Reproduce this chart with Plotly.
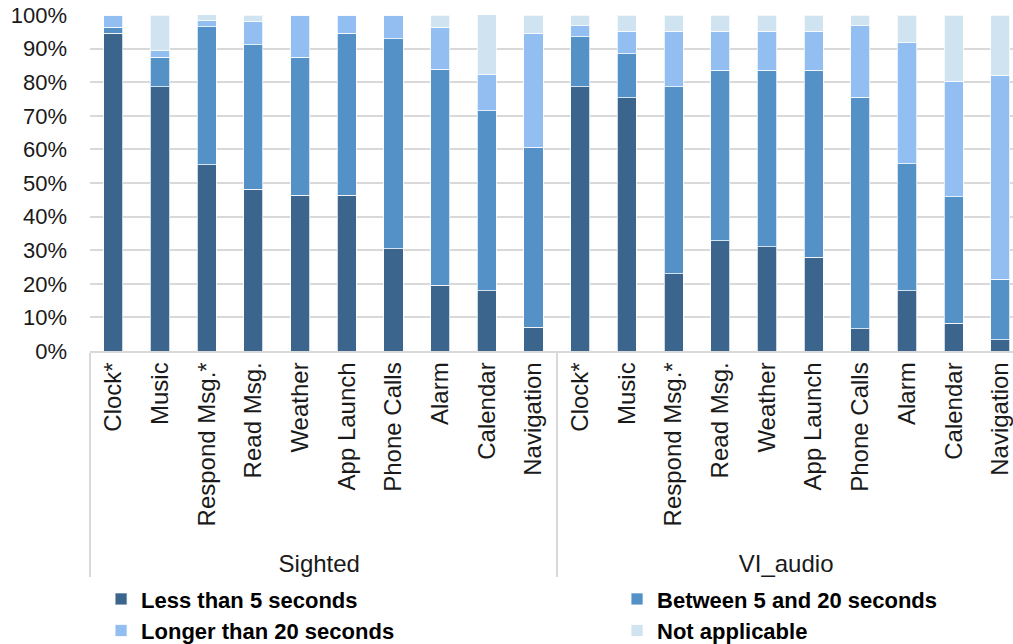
import plotly.graph_objects as go

# Task categories, shown once per participant group
groups = ["Sighted", "VI_audio"]
tasks = ["Clock*", "Music", "Respond Msg.*", "Read Msg.", "Weather",
         "App Launch", "Phone Calls", "Alarm", "Calendar", "Navigation"]

# Share of responses (%) per task, Sighted group
sighted_less = [94.6, 78.6, 55.4, 48.2, 46.4, 46.4, 30.4, 19.6, 17.9, 7.1]
sighted_between = [1.8, 8.9, 41.1, 42.9, 41.1, 48.2, 62.5, 64.3, 53.6, 53.6]
sighted_longer = [3.6, 1.8, 1.8, 7.1, 12.5, 5.4, 7.1, 12.5, 10.7, 33.9]
sighted_na = [0.0, 10.7, 1.8, 1.8, 0.0, 0.0, 0.0, 3.6, 17.9, 5.4]

# Share of responses (%) per task, VI_audio group
vi_less = [78.7, 75.4, 23.0, 32.8, 31.1, 27.9, 6.6, 18.0, 8.2, 3.3]
vi_between = [14.8, 13.1, 55.7, 50.8, 52.5, 55.7, 68.9, 37.7, 37.7, 18.0]
vi_longer = [3.3, 6.6, 16.4, 11.5, 11.5, 11.5, 21.3, 36.1, 34.4, 60.7]
vi_na = [3.2, 4.9, 4.9, 4.9, 4.9, 4.9, 3.2, 8.2, 19.7, 18.0]

series_names = ["Less than 5 seconds", "Between 5 and 20 seconds",
                "Longer than 20 seconds", "Not applicable"]
series_colors = ["#3b658c", "#5491c7", "#93bef2", "#cfe3f0"]
series_values = [
    sighted_less + vi_less,
    sighted_between + vi_between,
    sighted_longer + vi_longer,
    sighted_na + vi_na,
]
# left legend column holds series 0 and 2, right column series 1 and 3
series_legend = ["legend", "legend2", "legend", "legend2"]

x_outer = [g for g in groups for _ in tasks]
x_inner = tasks * len(groups)

FONT = "Liberation Sans, Arial, sans-serif"

fig = go.Figure()
for name, color, vals, leg in zip(series_names, series_colors, series_values, series_legend):
    fig.add_trace(go.Bar(
        x=[x_outer, x_inner],
        y=vals,
        name=name,
        legend=leg,
        marker=dict(color=color, line=dict(color="rgba(255,255,255,0.75)", width=1)),
    ))

legend_font = dict(family=FONT, size=22, color="#000000", weight="bold")
legend_common = dict(
    orientation="v",
    xanchor="left",
    y=-0.676, yanchor="top",
    traceorder="normal",
    font=legend_font,
    bgcolor="rgba(0,0,0,0)",
)

fig.update_layout(
    width=1013,
    height=644,
    barmode="stack",
    bargap=0.59,
    plot_bgcolor="white",
    paper_bgcolor="white",
    margin=dict(l=90, r=0, t=15, b=293, autoexpand=False),
    font=dict(family=FONT, color="#1a1a1a"),
    legend=dict(x=0.012, **legend_common),
    legend2=dict(x=0.571, **legend_common),
)

fig.update_xaxes(
    type="multicategory",
    range=[-0.5, 19.27],
    tickangle=-90,
    tickfont=dict(family=FONT, size=24, color="#1a1a1a"),
    showline=True,
    linecolor="#d9d9d9",
    linewidth=1.5,
    showdividers=True,
    dividercolor="#d9d9d9",
    dividerwidth=1.5,
    showgrid=False,
    ticks="",
)

fig.update_yaxes(
    range=[0, 100],
    dtick=10,
    ticksuffix="%",
    showgrid=True,
    gridcolor="#d9d9d9",
    gridwidth=1.5,
    zeroline=False,
    showline=False,
    tickfont=dict(family=FONT, size=22, color="#1a1a1a"),
    ticklabelstandoff=22,
)

fig.write_html("out.html")
